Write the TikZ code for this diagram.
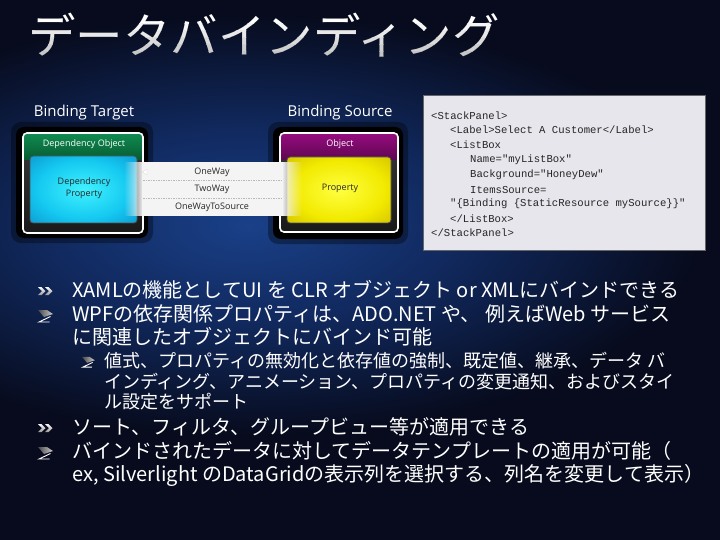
\documentclass[tikz,border=0pt]{standalone}
\usepackage{fontspec}
\setmainfont{Noto Sans CJK JP}
\newfontfamily\labfont{Open Sans}
\newfontfamily\codefont{Liberation Mono}
\usetikzlibrary{fadings}
\definecolor{bgbase}{HTML}{070B1D}
\definecolor{glowC}{HTML}{1A4088}
\definecolor{glowM}{HTML}{112A60}
\definecolor{greenT}{HTML}{108C52}
\definecolor{greenB}{HTML}{065A30}
\definecolor{magT}{HTML}{960C80}
\definecolor{magB}{HTML}{5E0650}
\definecolor{cyanC}{HTML}{40F2FF}
\definecolor{cyanM}{HTML}{14C8F0}
\definecolor{cyanE}{HTML}{0670B8}
\definecolor{yelC}{HTML}{FFFF40}
\definecolor{yelM}{HTML}{F2EA00}
\definecolor{yelE}{HTML}{B8A000}
\definecolor{codebg}{HTML}{E6E6EC}
\definecolor{bandc}{HTML}{F4F4F4}
\pgfdeclareradialshading{bgglow}{\pgfpoint{0bp}{0bp}}{color(0bp)=(glowC); color(22bp)=(glowM); color(50bp)=(bgbase); color(100bp)=(bgbase)}
\pgfdeclareradialshading{cyanglow}{\pgfpoint{0bp}{0bp}}{color(0bp)=(cyanC); color(22bp)=(cyanM); color(50bp)=(cyanE)}
\pgfdeclareradialshading{yelglow}{\pgfpoint{0bp}{0bp}}{color(0bp)=(yelC); color(22bp)=(yelM); color(50bp)=(yelE)}
\tikzfading[name=fadeinL, left color=transparent!100, right color=transparent!0]
\tikzfading[name=fadeoutR, left color=transparent!0, right color=transparent!100]
\newcommand\chevbullet[2]{%
  \begin{scope}[shift={(#1,#2)}]
    \foreach \xo in {-7,0}{
      \shade[top color=white!95!gray, bottom color=gray!80!white]
        (\xo,-4) -- (\xo+3.5,-4) -- (\xo+7.5,0) -- (\xo+3.5,4) -- (\xo,4) -- (\xo+4,0) -- cycle;}
  \end{scope}}
\newcommand\zbullet[3]{%
  \begin{scope}[shift={(#1,#2)}, scale=#3]
    \shade[left color=gray!55!black, right color=gray!40!white]
      (-7,-6) -- (2,-6) -- (8,-2) -- (-1,1) -- cycle;
    \draw[white, line width=0.9] (5.5,0.5) -- (-6,6) -- (4.5,6);
  \end{scope}}
\begin{document}
\begin{tikzpicture}[x=1pt,y=-1pt,
  body/.style={anchor=west, inner sep=0, text=white, text height=16pt, text depth=3pt,
    font=\fontsize{20}{24}\selectfont},
  subbody/.style={anchor=west, inner sep=0, text=white, text height=14.5pt, text depth=2.5pt,
    font=\fontsize{18}{22}\selectfont},
  lab/.style={inner sep=0, text=white, font=\labfont\fontsize{15}{18}\selectfont},
  small/.style={inner sep=0, font=\labfont\fontsize{9}{11}\selectfont},
  code/.style={anchor=west, inner sep=0, text=black!85, font=\codefont\fontsize{10.6}{12}\selectfont},
  dashline/.style={draw=gray!55, line width=0.6, dash pattern=on 1.5pt off 1pt},
  whiteframe/.style={draw=white, line width=1.6, rounded corners=4}]
\useasboundingbox (0,0) rectangle (720,540);
\fill[bgbase] (0,0) rectangle (720,540);
\begin{scope}
  \clip (0,0) rectangle (720,540);
  \pgftransformcm{9}{0}{0}{4.2}{\pgfpoint{250pt}{-225pt}}
  \pgflowlevelsynccm
  \pgfuseshading{bgglow}
\end{scope}
% title with vertical gradient
\foreach \i/\ya/\yb/\c in {0/0/24/100,1/24/31/92,2/31/38/82,3/38/45/72,4/45/52/62,5/52/80/55}{
  \begin{scope}
    \clip (0,\ya) rectangle (720,\yb);
    \node[anchor=west, inner sep=0, text=white!\c!gray, font=\fontsize{47.5}{50}\selectfont] (title\i) at (28,35) {データバインディング};
  \end{scope}}
% labels
\node[lab] (bt) at (84,113) {Binding Target};
\node[lab] (bs) at (340,113) {Binding Source};
% ---- left box
\fill[black, opacity=0.35, rounded corners=10] (11,122) rectangle (153,243);
\fill[black, rounded corners=8] (16,127) rectangle (148,238);
\shade[top color=gray!45!black, bottom color=black!90, rounded corners=4] (23,133) rectangle (143,233);
\begin{scope}
  \clip[rounded corners=4] (23,133) rectangle (143,233);
  \shade[top color=greenT, bottom color=greenB] (23,133) rectangle (143,160);
\end{scope}
\shade[shading=cyanglow, rounded corners=3] (30,156) rectangle (137,223);
\draw[black!70, line width=0.8, rounded corners=3] (30,156) rectangle (137,223);
\draw[whiteframe] (23,133) rectangle (143,233);
\node[small, text=white] (dobj) at (84,144) {Dependency Object};
\node[small, text=black!85, align=center] (dprop) at (84,188) {Dependency\\[1pt]Property};
% ---- right box
\fill[black, opacity=0.35, rounded corners=10] (268,122) rectangle (408,244);
\fill[black, rounded corners=8] (273,127) rectangle (403,239);
\shade[top color=gray!45!black, bottom color=black!90, rounded corners=4] (280,133) rectangle (398,232);
\begin{scope}
  \clip[rounded corners=4] (280,133) rectangle (398,232);
  \shade[top color=magT, bottom color=magB] (280,133) rectangle (398,160);
\end{scope}
\shade[shading=yelglow, rounded corners=3] (287,157) rectangle (391,223);
\draw[black!70, line width=0.8, rounded corners=3] (287,157) rectangle (391,223);
\draw[whiteframe] (280,133) rectangle (398,232);
\node[small, text=white] (obj) at (340,144) {Object};
\node[small, text=black!85] (prop) at (340,188) {Property};
% ---- binding band
\fill[bandc, path fading=fadeinL] (124,162) rectangle (143,216);
\fill[bandc] (143,162) rectangle (282,216);
\fill[bandc, path fading=fadeoutR] (282,162) rectangle (302,216);
\draw[dashline] (143,180) -- (282,180);
\draw[dashline] (143,198) -- (282,198);
\node[small, text=black!85] (ow) at (212,172) {OneWay};
\node[small, text=black!85] (tw) at (212,189) {TwoWay};
\node[small, text=black!85] (ows) at (212,207) {OneWayToSource};
\coordinate (owtip) at (142,172);
\fill[white, draw=gray!30, line width=0.3] (owtip) -- ++(5,-2.6) -- ++(0,5.2) -- cycle;
% ---- code box
\fill[codebg, draw=black!60, line width=0.6] (423,95) rectangle (705,250);
\node[code] (c1) at (431,115.5) {<StackPanel>};
\node[code] (c2) at (450,130) {<Label>Select A Customer</Label>};
\node[code] (c3) at (450,145) {<ListBox};
\node[code] (c4) at (470,160) {Name="myListBox"};
\node[code] (c5) at (470,175) {Background="HoneyDew"};
\node[code] (c6) at (470,190) {ItemsSource=};
\node[code] (c7) at (450,204) {"\{Binding \{StaticResource mySource\}\}"};
\node[code] (c8) at (450,218.5) {</ListBox>};
\node[code] (c9) at (431,233) {</StackPanel>};
% ---- bullets
\chevbullet{45}{291}
\node[body] (b1) at (72,291) {XAMLの機能としてUI を CLR オブジェクト or XMLにバインドできる};
\zbullet{45}{316}{1}
\node[body] (b2a) at (72,315) {WPFの依存関係プロパティは、ADO.NET や、 例えばWeb サービス};
\node[body] (b2b) at (72,338) {に関連したオブジェクトにバインド可能};
\zbullet{88}{362}{0.85}
\node[subbody] (s1a) at (104,361) {値式、プロパティの無効化と依存値の強制、既定値、継承、データ バ};
\node[subbody] (s1b) at (104,382) {インディング、アニメーション、プロパティの変更通知、およびスタイ};
\node[subbody] (s1c) at (104,402) {ル設定をサポート};
\chevbullet{45}{428}
\node[body] (b3) at (72,428) {ソート、フィルタ、グループビュー等が適用できる};
\zbullet{45}{453}{1}
\node[body] (b4a) at (72,452) {バインドされたデータに対してデータテンプレートの適用が可能（};
\node[body] (b4b) at (72,475) {ex, Silverlight のDataGridの表示列を選択する、列名を変更して表示）};
\end{tikzpicture}
\end{document}
